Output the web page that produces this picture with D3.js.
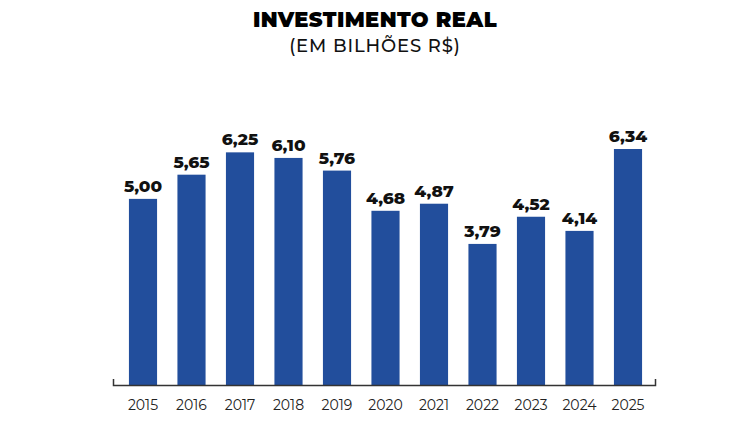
<!DOCTYPE html>
<html>
<head>
<meta charset="utf-8">
<script src="https://cdn.jsdelivr.net/npm/d3@7"></script>
<style>
  body { margin: 0; background: #fff; }
  svg text { font-family: "Montserrat", "Roboto", "Noto Sans", sans-serif; }
</style>
</head>
<body>
<div id="chart"></div>
<script>
  const years = ["2015", "2016", "2017", "2018", "2019", "2020", "2021", "2022", "2023", "2024", "2025"];
  const values = [5.00, 5.65, 6.25, 6.10, 5.76, 4.68, 4.87, 3.79, 4.52, 4.14, 6.34];

  const width = 750;
  const height = 430;
  const baseY = 385;
  const barColor = "#224e9c";

  const svg = d3.select("#chart").append("svg")
    .attr("width", width)
    .attr("height", height);

  // titles
  svg.append("text")
    .attr("x", 375).attr("y", 27)
    .attr("text-anchor", "middle")
    .style("font-size", "21px")
    .style("font-weight", 900)
    .style("letter-spacing", "0.4px")
    .text("INVESTIMENTO REAL");

  svg.append("text")
    .attr("x", 375).attr("y", 52)
    .attr("text-anchor", "middle")
    .style("font-size", "18px")
    .style("font-weight", 500)
    .style("letter-spacing", "0.9px")
    .style("fill", "#111")
    .text("(EM BILHÕES R$)");

  const x = d3.scaleBand()
    .domain(years)
    .range([118.75, 652.25])
    .paddingInner(0.42)
    .paddingOuter(0.21);

  const y = d3.scaleLinear()
    .domain([0, 6.34])
    .range([baseY, 149]);

  const fmt = d => d.toFixed(2).replace(".", ",");

  const data = years.map((yr, i) => ({ year: yr, value: values[i] }));

  svg.selectAll("rect.bar")
    .data(data)
    .join("rect")
    .attr("class", "bar")
    .attr("x", d => x(d.year))
    .attr("width", x.bandwidth())
    .attr("y", d => y(d.value))
    .attr("height", d => baseY - y(d.value))
    .attr("fill", barColor);

  svg.selectAll("text.val")
    .data(data)
    .join("text")
    .attr("class", "val")
    .attr("x", d => x(d.year) + x.bandwidth() / 2)
    .attr("y", d => y(d.value) - 7)
    .attr("text-anchor", "middle")
    .style("font-size", "17px")
    .style("font-weight", 800)
    .style("fill", "#111")
    .text(d => fmt(d.value));

  // x axis: baseline with small end ticks
  const axis = svg.append("g")
    .attr("transform", `translate(0,${baseY})`)
    .call(d3.axisBottom(x).tickSize(0).tickPadding(15));

  axis.select(".domain").remove();
  axis.selectAll("text")
    .style("font-size", "14px")
    .style("fill", "#222")
    .style("font-family", "Montserrat, Roboto, 'Noto Sans', sans-serif");

  svg.append("path")
    .attr("d", `M113.5,${baseY - 6}V${baseY + 0.5}H655.5V${baseY - 6}`)
    .attr("fill", "none")
    .attr("stroke", "#333")
    .attr("stroke-width", 1.5);
</script>
</body>
</html>
